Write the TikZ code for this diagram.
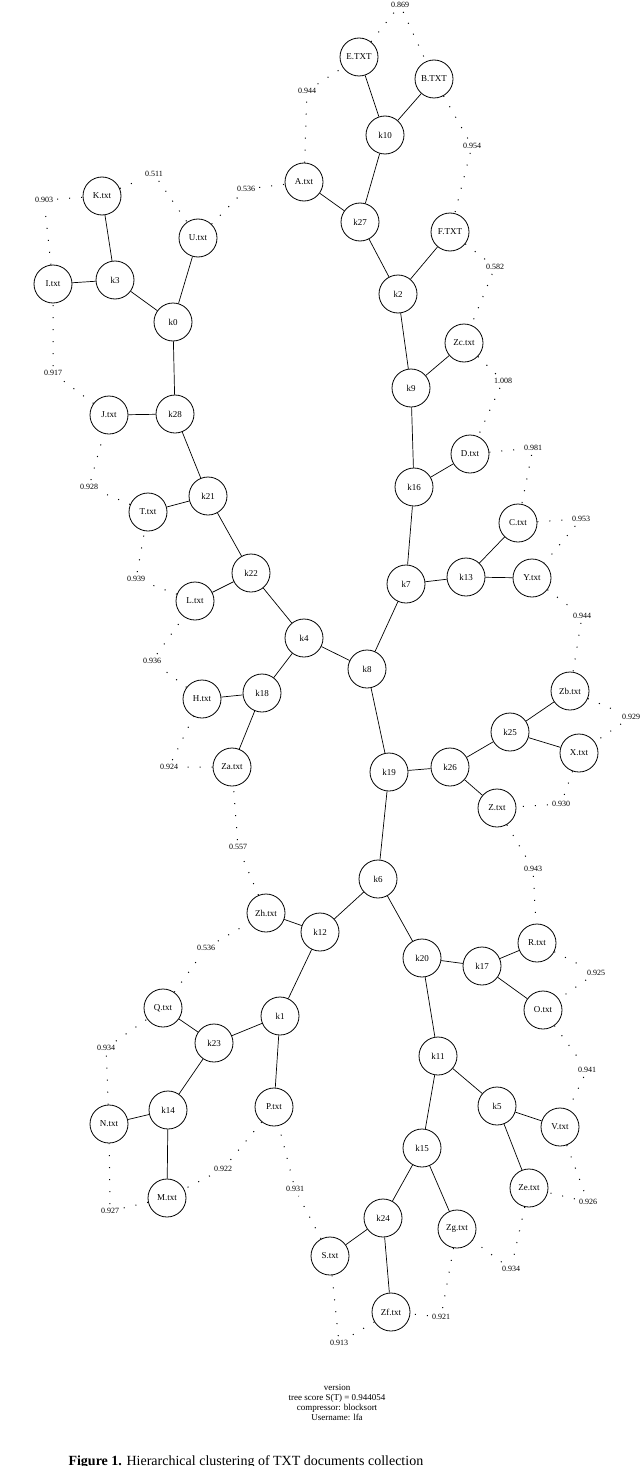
\documentclass[tikz,border=0pt]{standalone}
\usepackage{fontspec}
\setmainfont{Liberation Serif}
\begin{document}
\begin{tikzpicture}[x=1pt,y=-1pt,
  nd/.style={circle,draw,line width=0.8pt,minimum size=38pt,inner sep=0pt,font=\fontsize{9}{9}\selectfont},
  lb/.style={inner sep=4pt,font=\fontsize{8}{9}\selectfont},
  ed/.style={line width=0.7pt},
  dl/.style={line width=1pt,dash pattern=on 1pt off 11pt}]
\useasboundingbox (0,0) rectangle (640,1466);
\begin{scope}
\clip (0,0) rectangle (640,1466);
\foreach \n/\t/\x/\y in {E/E.TXT/359/57, B/B.TXT/434/79, k10/k10/385/135, A/A.txt/304/182, k27/k27/360/222, F/F.TXT/450/232, k2/k2/398/294, Zc/Zc.txt/464/343, k9/k9/411/388, D/D.txt/470/454, K/K.txt/102/196, U/U.txt/198/238, I/I.txt/53/284, k3/k3/115/280, k0/k0/173/322, J/J.txt/109/415, k28/k28/175/414, k16/k16/414/487, T/T.txt/148/512, k21/k21/208/496, C/C.txt/518/523, k22/k22/251/573, k7/k7/406/584, k13/k13/466/577, Y/Y.txt/532/578, L/L.txt/195/601, k4/k4/304/638, k8/k8/367/669, Zb/Zb.txt/570/691, H/H.txt/202/699, k18/k18/262/693, k25/k25/510/732, X/X.txt/579/753, k19/k19/389/772, k26/k26/450/767, Za/Za.txt/232/767, Z/Z.txt/497/808, k6/k6/378/879, Zh/Zh.txt/266/913, k12/k12/320/932, R/R.txt/537/943, k20/k20/422/958, k17/k17/482/966, Q/Q.txt/163/1008, k1/k1/280/1016, O/O.txt/543/1010, k23/k23/214/1043, k11/k11/438/1056, k14/k14/168/1110, N/N.txt/109/1124, P/P.txt/274/1107, k5/k5/497/1106, V/V.txt/560/1127, k15/k15/422/1148, Ze/Ze.txt/529/1188, M/M.txt/167/1198, k24/k24/383/1218, Zg/Zg.txt/457/1229, S/S.txt/330/1256, Zf/Zf.txt/391/1312}
  \node[nd] (\n) at (\x,\y) {\t};
\foreach \n/\t/\x/\y in {l1/0.869/400/5, l2/0.954/472/146, l3/0.582/495/267, l4/1.008/503/381, l5/0.981/533/448, l6/0.953/581/519, l7/0.944/582/616, l8/0.929/631/717, l9/0.930/561/804, l10/0.943/533/869, l11/0.925/596/973, l12/0.941/587/1070, l13/0.926/588/1202, l14/0.934/511/1269, l15/0.921/441/1317, l16/0.913/339/1343, l17/0.931/295/1189, l18/0.922/223/1169, l19/0.927/110/1211, l20/0.934/106/1048, l21/0.536/206/948, l22/0.557/238/847, l23/0.924/169/767, l24/0.936/152/661, l25/0.939/136/579, l26/0.928/89/487, l27/0.917/53/373, l28/0.903/44/200, l29/0.511/154/174, l30/0.536/246/189, l31/0.944/307/91}
  \node[lb] (\n) at (\x,\y) {\t};
\foreach \a/\l/\b in {E/l1/B, B/l2/F, F/l3/Zc, Zc/l4/D, D/l5/C, C/l6/Y, Y/l7/Zb, Zb/l8/X, X/l9/Z, Z/l10/R, R/l11/O, O/l12/V, V/l13/Ze, Ze/l14/Zg, Zg/l15/Zf, Zf/l16/S, S/l17/P, P/l18/M, M/l19/N, N/l20/Q, Q/l21/Zh, Zh/l22/Za, Za/l23/H, H/l24/L, L/l25/T, T/l26/J, J/l27/I, I/l28/K, K/l29/U, U/l30/A, A/l31/E}
  \draw[dl] (\a) -- (\l) -- (\b);
\foreach \a/\b in {k10/E, k10/B, k10/k27, k27/A, k27/k2, k2/F, k2/k9, k9/Zc, k9/k16, k16/D, k16/k7, k7/k13, k13/C, k13/Y, k7/k8, k8/k4, k4/k22, k22/L, k22/k21, k21/T, k21/k28, k28/J, k28/k0, k0/U, k0/k3, k3/K, k3/I, k4/k18, k18/H, k18/Za, k8/k19, k19/k26, k26/k25, k25/Zb, k25/X, k26/Z, k19/k6, k6/k12, k12/Zh, k12/k1, k1/k23, k23/Q, k23/k14, k14/N, k14/M, k1/P, k6/k20, k20/k17, k17/R, k17/O, k20/k11, k11/k5, k5/V, k5/Ze, k11/k15, k15/k24, k24/S, k24/Zf, k15/Zg}
  \draw[ed] (\a) -- (\b);
\node[align=center,font=\fontsize{9}{17}\selectfont] (foot) at (337,1403) {version\\[-7pt]tree score S(T) = 0.944054\\[-7pt]compressor: blocksort\\[-7pt]Username: lfa};
\node[anchor=west,font=\fontsize{14}{16}\selectfont] (cap) at (65,1462) {\textbf{Figure 1.} Hierarchical clustering of TXT documents collection};
\end{scope}
\end{tikzpicture}
\end{document}
